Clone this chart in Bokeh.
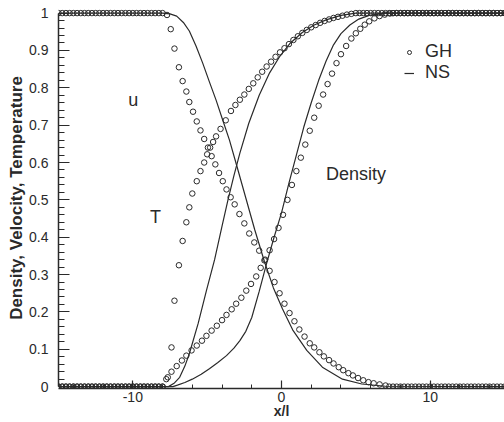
from bokeh.plotting import figure
from bokeh.models import Range1d, SingleIntervalTicker, Legend, LegendItem, Label
from bokeh.embed import file_html
from bokeh.resources import INLINE

# ---------------- data ----------------
FLAT_LEFT_X = [-15.0, -14.75, -14.5, -14.25, -14.0, -13.75, -13.5, -13.25, -13.0, -12.75,
               -12.5, -12.25, -12.0, -11.75, -11.5, -11.25, -11.0, -10.75, -10.5, -10.25,
               -10.0, -9.75, -9.5, -9.25, -9.0, -8.75, -8.5, -8.25, -8.0]
FLAT_RIGHT_X = [5.0, 5.25, 5.5, 5.75, 6.0, 6.25, 6.5, 6.75, 7.0, 7.25,
                7.5, 7.75, 8.0, 8.25, 8.5, 8.75, 9.0, 9.25, 9.5, 9.75,
                10.0, 10.25, 10.5, 10.75, 11.0, 11.25, 11.5, 11.75, 12.0, 12.25,
                12.5, 12.75, 13.0, 13.25, 13.5, 13.75, 14.0, 14.25, 14.5, 14.75, 15.0]

# GH (circles) - velocity
U_GH_X = [-7.7, -7.45, -7.2, -6.9, -6.65, -6.4, -6.2, -5.95, -5.7, -5.45,
          -5.2, -4.95, -4.7, -4.45, -4.2, -3.95, -3.7, -3.42, -3.15, -2.83,
          -2.5, -2.17, -1.83, -1.5, -1.15, -0.8, -0.47, -0.13, 0.2, 0.54,
          0.87, 1.2, 1.55, 1.9, 2.2, 2.55, 2.85, 3.2, 3.5, 3.85,
          4.15, 4.5, 4.8, 5.15, 5.5, 5.85, 6.2, 6.6, 7.0]
U_GH_Y = [0.995, 0.957, 0.905, 0.855, 0.818, 0.79, 0.762, 0.736, 0.71, 0.686,
          0.663, 0.64, 0.617, 0.595, 0.572, 0.55, 0.528, 0.507, 0.488, 0.462,
          0.437, 0.41, 0.386, 0.364, 0.338, 0.31, 0.28, 0.25, 0.222, 0.197,
          0.175, 0.153, 0.134, 0.116, 0.105, 0.092, 0.081, 0.071, 0.062, 0.052,
          0.044, 0.036, 0.03, 0.023, 0.017, 0.012, 0.009, 0.006, 0.003]

# GH (circles) - temperature
T_GH_X = [-7.65, -7.4, -7.2, -6.9, -6.65, -6.4, -6.2, -6.0, -5.7, -5.45,
          -5.2, -5.0, -4.8, -4.6, -4.4, -4.1, -3.75, -3.4, -3.1, -2.8,
          -2.5, -2.2, -1.9, -1.6, -1.3, -1.0, -0.7, -0.4, -0.1, 0.2,
          0.5, 0.8, 1.1, 1.4, 1.7, 2.0, 2.3, 2.6, 2.9, 3.2,
          3.5, 3.8, 4.1, 4.4, 4.7]
T_GH_Y = [0.025, 0.105, 0.23, 0.325, 0.39, 0.44, 0.48, 0.517, 0.55, 0.577,
          0.6, 0.622, 0.64, 0.655, 0.67, 0.69, 0.713, 0.738, 0.754, 0.768,
          0.782, 0.797, 0.812, 0.828, 0.843, 0.857, 0.87, 0.883, 0.895, 0.906,
          0.917, 0.928, 0.938, 0.947, 0.955, 0.962, 0.968, 0.974, 0.979, 0.983,
          0.987, 0.99, 0.993, 0.996, 0.998]

# GH (circles) - density
D_GH_X = [-7.75, -7.4, -7.05, -6.7, -6.4, -6.05, -5.7, -5.35, -5.05, -4.7,
          -4.35, -4.0, -3.7, -3.35, -3.05, -2.7, -2.37, -2.05, -1.7, -1.4,
          -1.1, -0.8, -0.5, -0.2, 0.1, 0.4, 0.7, 1.0, 1.3, 1.6,
          1.9, 2.2, 2.5, 2.8, 3.1, 3.4, 3.7, 4.0, 4.35, 4.7,
          5.0, 5.3, 5.6, 5.9, 6.25, 6.6, 6.95, 7.3]
D_GH_Y = [0.02, 0.04, 0.055, 0.07, 0.083, 0.097, 0.11, 0.123, 0.136, 0.15,
          0.163, 0.178, 0.192, 0.207, 0.222, 0.238, 0.257, 0.275, 0.295, 0.318,
          0.34, 0.365, 0.395, 0.425, 0.46, 0.5, 0.54, 0.577, 0.613, 0.648,
          0.685, 0.72, 0.752, 0.782, 0.81, 0.838, 0.866, 0.89, 0.912, 0.932,
          0.946, 0.958, 0.969, 0.978, 0.986, 0.992, 0.996, 0.999]

# NS (lines)
U_NS_X = [-15, -8.0, -7.5, -7.05, -6.6, -6.2, -5.75, -5.3, -4.85, -4.4,
          -3.95, -3.5, -3.0, -2.4, -1.8, -1.15, -0.55, 0.07, 0.75, 1.7,
          2.75, 4.1, 5.4, 7.0, 15]
U_NS_Y = [1, 1, 0.998, 0.992, 0.975, 0.952, 0.912, 0.866, 0.816, 0.767,
          0.713, 0.66, 0.59, 0.505, 0.42, 0.335, 0.265, 0.208, 0.152, 0.097,
          0.052, 0.02, 0.007, 0.001, 0]
T_NS_X = [-15, -7.6, -7.2, -6.85, -6.5, -6.2, -5.6, -5.05, -4.5, -4.0,
          -3.6, -3.2, -2.8, -2.2, -1.5, -0.8, -0.1, 0.6, 1.4, 2.2,
          3.0, 4.0, 5.0, 15]
T_NS_Y = [0, 0, 0.01, 0.025, 0.055, 0.088, 0.17, 0.257, 0.34, 0.43,
          0.5, 0.565, 0.625, 0.705, 0.78, 0.84, 0.885, 0.92, 0.948, 0.968,
          0.982, 0.994, 1.0, 1.0]
D_NS_X = [-15, -7.3, -7.0, -6.5, -6.0, -5.4, -4.85, -4.3, -3.7, -3.2,
          -2.8, -2.4, -2.0, -1.5, -1.0, -0.5, 0.0, 0.5, 1.0, 1.5,
          2.0, 2.5, 3.0, 3.5, 4.0, 4.6, 5.2, 5.9, 7.0, 15]
D_NS_Y = [0, 0, 0.004, 0.011, 0.02, 0.033, 0.048, 0.064, 0.083, 0.103,
          0.123, 0.148, 0.185, 0.255, 0.33, 0.4, 0.465, 0.545, 0.62, 0.695,
          0.76, 0.82, 0.872, 0.915, 0.945, 0.968, 0.984, 0.994, 1.0, 1.0]

LABELS = ["u", "T", "Density"]
LABEL_X = [-10.3, -8.85, 3.0]
LABEL_Y = [0.767, 0.453, 0.57]

# ---------------- assemble GH series with flat parts ----------------
u_right = [x for x in FLAT_RIGHT_X if x >= 7.25]
u_x = FLAT_LEFT_X + U_GH_X + u_right
u_y = [1.0] * len(FLAT_LEFT_X) + U_GH_Y + [0.0] * len(u_right)
t_x = FLAT_LEFT_X + T_GH_X + FLAT_RIGHT_X
t_y = [0.0] * len(FLAT_LEFT_X) + T_GH_Y + [1.0] * len(FLAT_RIGHT_X)
d_right = [x for x in FLAT_RIGHT_X if x >= 7.5]
d_x = FLAT_LEFT_X + D_GH_X + d_right
d_y = [0.0] * len(FLAT_LEFT_X) + D_GH_Y + [1.0] * len(d_right)

INK = "#2a2a2a"
FONT = "Liberation Sans"

p = figure(width=504, height=422, output_backend="svg", toolbar_location=None,
           x_range=Range1d(-15, 15), y_range=Range1d(-0.005, 1.015),
           min_border_left=58, min_border_right=0, min_border_top=7, min_border_bottom=34,
           x_axis_label="x/l", y_axis_label="Density, Velocity, Temperature")
p.outline_line_color = None
p.xgrid.visible = False
p.ygrid.visible = False
p.background_fill_color = "white"
p.border_fill_color = "white"

ns_lines = []
for xs, ys in ((U_NS_X, U_NS_Y), (T_NS_X, T_NS_Y), (D_NS_X, D_NS_Y)):
    ns_lines.append(p.line(xs, ys, line_color=INK, line_width=1.2))

gh_pts = []
for xs, ys in ((u_x, u_y), (t_x, t_y), (d_x, d_y)):
    gh_pts.append(p.scatter(xs, ys, marker="circle", size=5.5, fill_color=None,
                            line_color=INK, line_width=1.0))

for txt, lx, ly in zip(LABELS, LABEL_X, LABEL_Y):
    p.add_layout(Label(x=lx, y=ly, text=txt, text_font=FONT, text_font_size="18px",
                       text_color=INK, text_align="left", text_baseline="alphabetic"))

legend = Legend(items=[LegendItem(label="GH", renderers=[gh_pts[0]]),
                       LegendItem(label="NS", renderers=[ns_lines[0]])],
                location=(346, 305), orientation="vertical",
                background_fill_alpha=0, border_line_alpha=0,
                label_text_font=FONT, label_text_font_size="18px", label_text_color=INK,
                glyph_width=10, glyph_height=14, label_standoff=11, label_height=14,
                spacing=-5, padding=0, margin=0)
p.add_layout(legend)

# axes
xa = p.xaxis[0]
xa.ticker = SingleIntervalTicker(interval=10, num_minor_ticks=5)
xa.bounds = (-15, 15)
xa.major_label_overrides = {-10: "-10", 0: "0", 10: "10"}
ya = p.yaxis[0]
ya.ticker = SingleIntervalTicker(interval=0.1, num_minor_ticks=5)
ya.bounds = (0, 1)
ya.major_label_overrides = {0: "0", 1: "1"}

for ax in (xa, ya):
    ax.axis_line_color = INK
    ax.axis_line_width = 1.5
    ax.major_tick_line_color = INK
    ax.minor_tick_line_color = INK
    ax.major_tick_line_width = 1.2
    ax.minor_tick_line_width = 1.0
    ax.major_tick_out = 0
    ax.minor_tick_out = 0
    ax.major_label_text_font = FONT
    ax.major_label_text_font_size = "14px"
    ax.major_label_text_color = INK
    ax.axis_label_text_font = FONT
    ax.axis_label_text_font_style = "bold"
    ax.axis_label_text_color = INK

xa.axis_label_text_font_size = "14px"
ya.axis_label_text_font_size = "17px"
xa.major_tick_in = 8
xa.minor_tick_in = 4
xa.major_label_standoff = 3
xa.axis_label_standoff = -2
ya.major_tick_in = 11
ya.minor_tick_in = 6
ya.major_label_standoff = 10
ya.axis_label_standoff = 0

open("out.html", "w").write(file_html(p, INLINE))
